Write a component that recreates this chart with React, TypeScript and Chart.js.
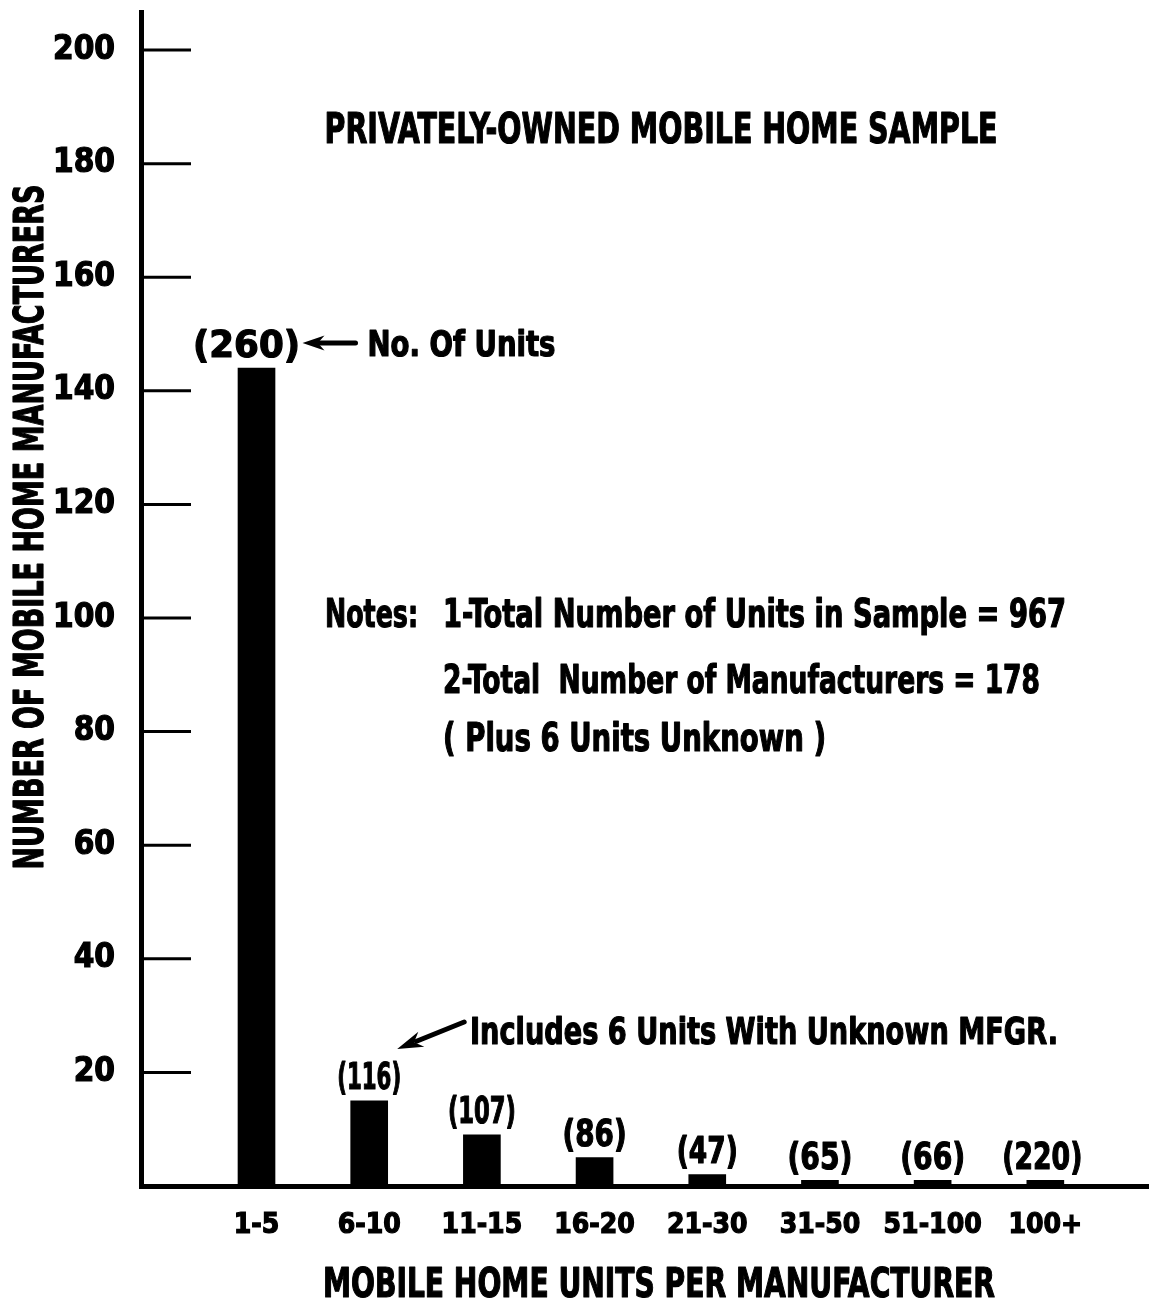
import React, { useEffect, useRef } from "react";
import { Chart, registerables } from "chart.js";

Chart.register(...registerables);

const categories = ["1-5", "6-10", "11-15", "16-20", "21-30", "31-50", "51-100", "100+"];
const manufacturers = [144, 15, 9, 5, 2, 1, 1, 1];
const unitCounts = [260, 116, 107, 86, 47, 65, 66, 220];
const yTickValues = [20, 40, 60, 80, 100, 120, 140, 160, 180, 200];

const chartTitle = "PRIVATELY-OWNED MOBILE HOME SAMPLE";
const xTitle = "MOBILE HOME UNITS PER MANUFACTURER";
const yTitle = "NUMBER OF MOBILE HOME MANUFACTURERS";
const notesLabel = "Notes:";
const notesLines = [
  "1-Total Number of Units in Sample = 967",
  "2-Total  Number of Manufacturers = 178",
  "( Plus 6 Units Unknown )",
];
const unitsNote = "No. Of Units";
const unknownNote = "Includes 6 Units With Unknown MFGR.";

const FONT =
  "'Liberation Sans Narrow','Noto Sans ExtraCondensed','Noto Sans Condensed','DejaVu Sans Condensed',sans-serif";
const CAP = 0.72;

function drawFit(
  ctx: CanvasRenderingContext2D,
  text: string,
  x: number,
  cy: number,
  cap: number,
  width: number | null,
  align: CanvasTextAlign
) {
  const size = cap / CAP;
  ctx.save();
  ctx.font = `bold ${size}px ${FONT}`;
  const w = ctx.measureText(text).width;
  const sx = width ? width / w : 1;
  ctx.translate(x, cy + cap / 2);
  ctx.scale(sx, 1);
  ctx.textAlign = align;
  ctx.textBaseline = "alphabetic";
  ctx.fillStyle = "#000";
  ctx.strokeStyle = "#000";
  ctx.lineWidth = 1.2;
  ctx.lineJoin = "round";
  ctx.fillText(text, 0, 0);
  ctx.strokeText(text, 0, 0);
  ctx.restore();
}

function arrow(
  ctx: CanvasRenderingContext2D,
  x1: number,
  y1: number,
  x2: number,
  y2: number,
  lw: number,
  headLen: number,
  headW: number
) {
  const ang = Math.atan2(y2 - y1, x2 - x1);
  ctx.save();
  ctx.strokeStyle = "#000";
  ctx.fillStyle = "#000";
  ctx.lineWidth = lw;
  ctx.lineCap = "round";
  const bx = x2 - Math.cos(ang) * headLen * 0.8;
  const by = y2 - Math.sin(ang) * headLen * 0.8;
  ctx.beginPath();
  ctx.moveTo(x1, y1);
  ctx.lineTo(bx, by);
  ctx.stroke();
  ctx.translate(x2, y2);
  ctx.rotate(ang);
  ctx.beginPath();
  ctx.moveTo(0, 0);
  ctx.lineTo(-headLen, -headW / 2);
  ctx.lineTo(-headLen * 0.7, 0);
  ctx.lineTo(-headLen, headW / 2);
  ctx.closePath();
  ctx.fill();
  ctx.restore();
}

const decorPlugin = {
  id: "decor",
  afterDraw(chart: any) {
    const ctx: CanvasRenderingContext2D = chart.ctx;
    const ys = chart.scales.y;
    const area = chart.chartArea;

    // inward y tick marks
    ctx.save();
    ctx.strokeStyle = "#000";
    ctx.lineWidth = 3;
    for (const v of yTickValues) {
      const py = ys.getPixelForValue(v);
      ctx.beginPath();
      ctx.moveTo(area.left, py);
      ctx.lineTo(area.left + 50, py);
      ctx.stroke();
    }
    ctx.restore();

    // value labels above bars
    const meta = chart.getDatasetMeta(0);
    const labelWidths = [107, 64, 68, 64, 61, 65, 65, 80];
    meta.data.forEach((bar: any, i: number) => {
      const top = Math.min(bar.y, ys.getPixelForValue(0) - 6);
      const cx = i === 0 ? bar.x - 10 : i === 7 ? bar.x - 3 : bar.x;
      drawFit(ctx, `(${unitCounts[i]})`, cx, top - 25, 27, labelWidths[i], "center");
    });

    // "(260) <- No. Of Units"
    const b0 = meta.data[0];
    const ay = b0.y - 25;
    arrow(ctx, b0.x + 99, ay, b0.x + 46, ay, 5, 22, 15);
    drawFit(ctx, unitsNote, b0.x + 111, ay, 25, 188, "left");

    // chart title
    drawFit(ctx, chartTitle, 661, 127, 31, 673, "center");

    // notes
    drawFit(ctx, notesLabel, 325, 613, 28, 93, "left");
    drawFit(ctx, notesLines[0], 443, 613, 28, 623, "left");
    drawFit(ctx, notesLines[1], 443, 679, 28, 597, "left");
    drawFit(ctx, notesLines[2], 443, 737, 28, 383, "left");

    // includes note with arrow pointing at the 6-10 label
    const b1 = meta.data[1];
    arrow(ctx, b1.x + 95, 1022, b1.x + 28, 1049, 5, 26, 16);
    drawFit(ctx, unknownNote, 470, 1030, 27, 588, "left");

    // axis titles
    drawFit(ctx, xTitle, 659, 1282, 29, 672, "center");
    ctx.save();
    ctx.translate(28, 527);
    ctx.rotate(-Math.PI / 2);
    drawFit(ctx, yTitle, 0, 0, 29, 685, "center");
    ctx.restore();
  },
};

export default function App() {
  const ref = useRef<HTMLCanvasElement | null>(null);
  useEffect(() => {
    if (!ref.current) return;
    const chart = new Chart(ref.current, {
      type: "bar",
      data: {
        datasets: [
          {
            data: categories.map((c, i) => ({ x: i, y: manufacturers[i] })),
            backgroundColor: "#000",
            borderWidth: 0,
            barThickness: 37,
          },
        ],
      },
      options: {
        responsive: false,
        animation: false,
        devicePixelRatio: 1,
        layout: { padding: { top: 12, left: 0, right: 0, bottom: 0 } },
        plugins: { legend: { display: false }, tooltip: { enabled: false }, title: { display: false } },
        scales: {
          x: {
            type: "linear",
            offset: false,
            min: -1.025,
            max: 7.92,
            grid: { display: false },
            border: { display: true, color: "#000", width: 5 },
            afterBuildTicks: (s: any) => {
              s.ticks = categories.map((c, i) => ({ value: i }));
            },
            afterFit: (s: any) => {
              s.height = 114;
              s.paddingLeft = 0;
              s.paddingRight = 0;
            },
            ticks: {
              autoSkip: false,
              maxRotation: 0,
              padding: 15,
              color: "#000",
              textStrokeColor: "#000",
              textStrokeWidth: 1.2,
              font: { family: FONT, size: 28, weight: "bold" },
              callback: (v: any) => categories[v] ?? "",
            },
          },
          y: {
            type: "linear",
            min: 0,
            max: 206.7,
            grid: { display: false },
            border: { display: true, color: "#000", width: 5 },
            afterBuildTicks: (s: any) => {
              s.ticks = yTickValues.map((v) => ({ value: v }));
            },
            afterFit: (s: any) => {
              s.width = 141;
              s.paddingTop = 0;
              s.paddingBottom = 0;
            },
            ticks: {
              padding: 18,
              color: "#000",
              textStrokeColor: "#000",
              textStrokeWidth: 1.2,
              font: { family: FONT, size: 33, weight: "bold" },
            },
          },
        },
      },
      plugins: [decorPlugin],
    });
    return () => chart.destroy();
  }, []);
  return (
    <div style={{ position: "absolute", left: 0, top: 0, width: 1149, height: 1300, background: "#fff" }}>
      <canvas ref={ref} width={1149} height={1300} style={{ display: "block" }} />
    </div>
  );
}
